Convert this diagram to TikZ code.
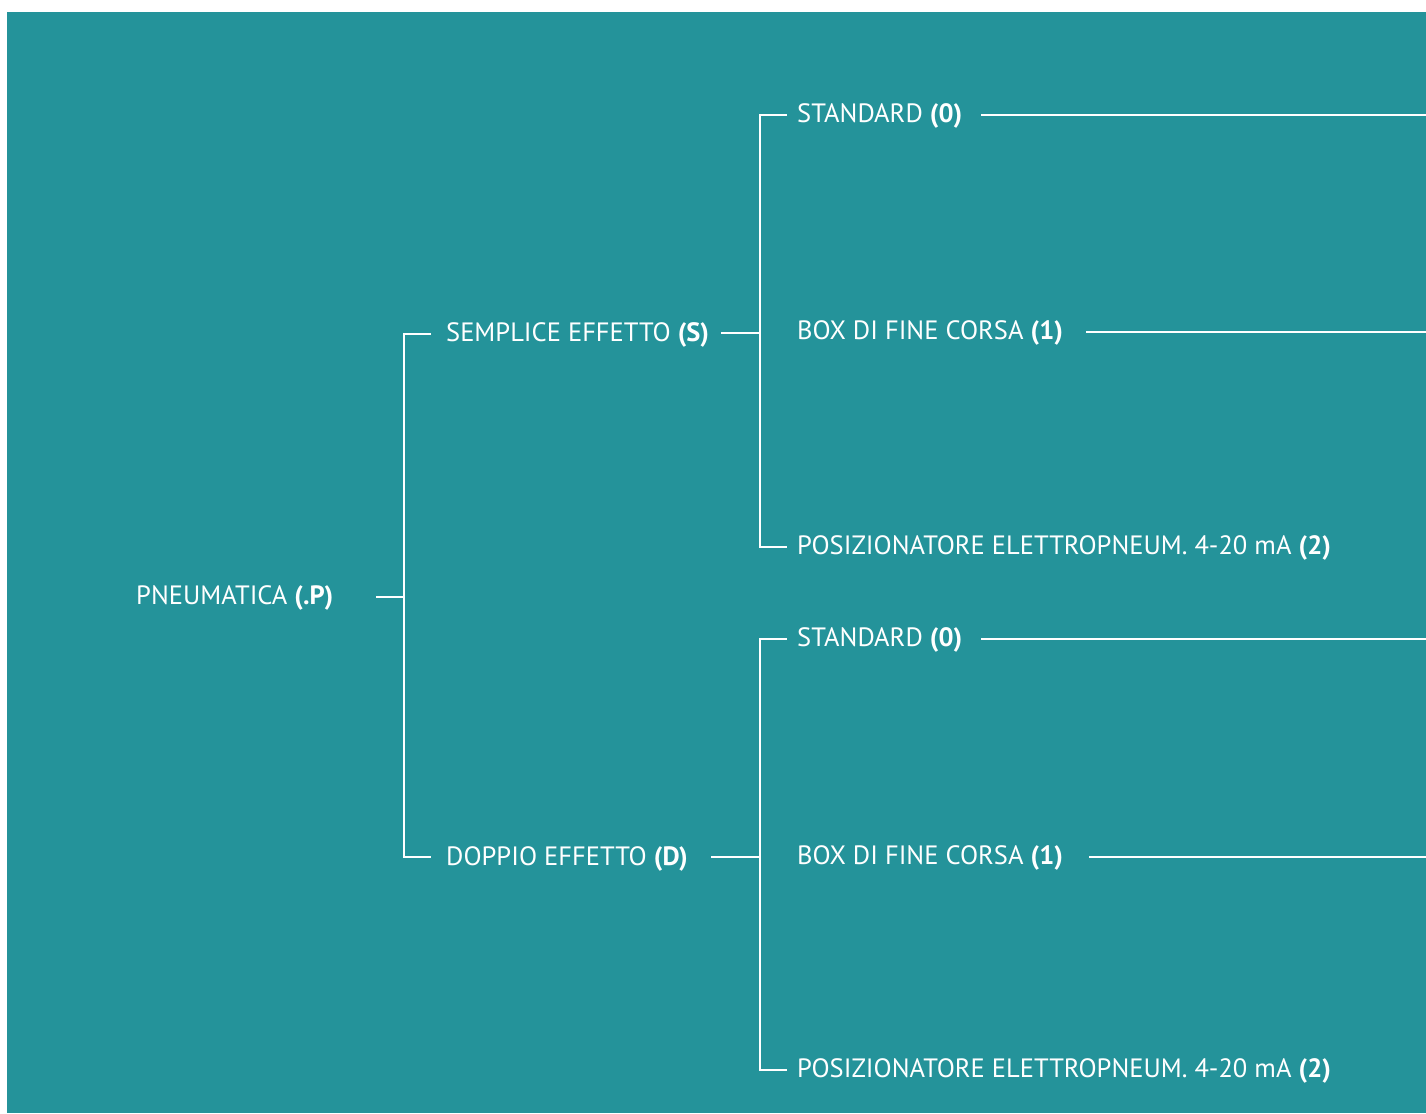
\documentclass[tikz,border=0pt]{standalone}
\usepackage{fontspec}
\setmainfont{PT Sans}
\definecolor{teal}{HTML}{24939A}
\begin{document}
\begin{tikzpicture}[x=1pt,y=-1pt,
  lbl/.style={anchor=base west,inner sep=0pt,text=white,font=\fontsize{26.5}{32}\selectfont},
  wire/.style={draw=white,line width=2pt}]
\useasboundingbox (0,0) rectangle (1426,1113);
\fill[teal] (7,12) rectangle (1426,1113);
% labels
\node[lbl] (p) at (136,604) {PNEUMATICA \textbf{(.P)}};
\node[lbl] (s) at (446,341) {SEMPLICE EFFETTO \textbf{(S)}};
\node[lbl] (d) at (446,865) {DOPPIO EFFETTO \textbf{(D)}};
\node[lbl] (s0) at (797,122) {STANDARD \textbf{(0)}};
\node[lbl] (s1) at (797,339) {BOX DI FINE CORSA \textbf{(1)}};
\node[lbl] (s2) at (797,554) {POSIZIONATORE ELETTROPNEUM. 4-20 mA \textbf{(2)}};
\node[lbl] (d0) at (797,646) {STANDARD \textbf{(0)}};
\node[lbl] (d1) at (797,864) {BOX DI FINE CORSA \textbf{(1)}};
\node[lbl] (d2) at (797,1077) {POSIZIONATORE ELETTROPNEUM. 4-20 mA \textbf{(2)}};
% junctions
\coordinate (pa) at (376,597);
\coordinate (pj) at (404,597);
\coordinate (sa) at (431,334);
\coordinate (da) at (431,857);
\coordinate (sb) at (721,333);
\coordinate (sj) at (760,333);
\coordinate (db) at (711,857);
\coordinate (dj) at (760,857);
\coordinate (s0a) at (787,115);
\coordinate (s2a) at (787,547);
\coordinate (d0a) at (787,639);
\coordinate (d2a) at (787,1070);
\coordinate (s0b) at (981,115);
\coordinate (s0e) at (1426,115);
\coordinate (s1b) at (1086,332);
\coordinate (s1e) at (1426,332);
\coordinate (d0b) at (981,639);
\coordinate (d0e) at (1426,639);
\coordinate (d1b) at (1089,857);
\coordinate (d1e) at (1426,857);
% wires
\draw[wire] (pa) -- (pj);
\draw[wire] (sa) -| (pj) |- (da);
\draw[wire] (sb) -- (sj);
\draw[wire] (db) -- (dj);
\draw[wire] (s0a) -| (sj) |- (s2a);
\draw[wire] (d0a) -| (dj) |- (d2a);
\draw[wire] (s0b) -- (s0e);
\draw[wire] (s1b) -- (s1e);
\draw[wire] (d0b) -- (d0e);
\draw[wire] (d1b) -- (d1e);
\end{tikzpicture}
\end{document}
